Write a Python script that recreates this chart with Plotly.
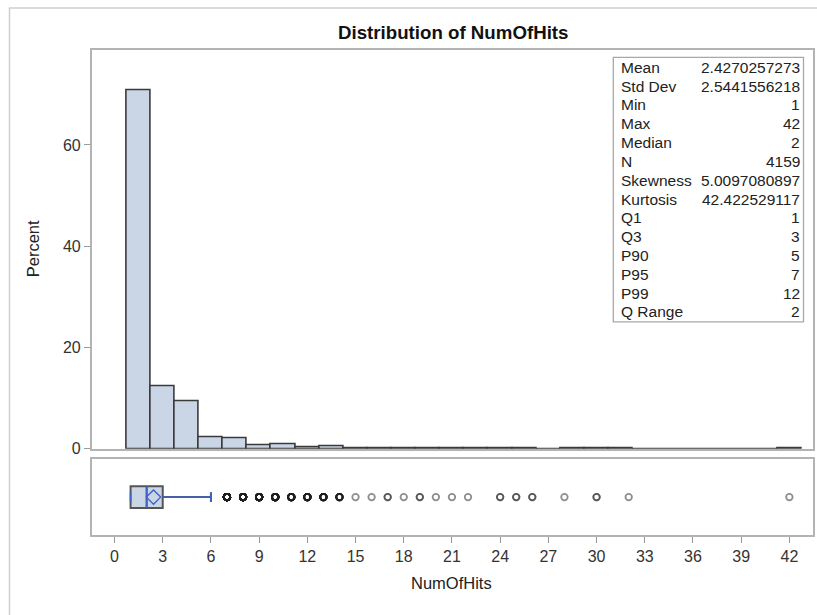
import plotly.graph_objects as go

# ---- data -------------------------------------------------------------
bin_centers = [1.5, 3, 4.5, 6, 7.5, 9, 10.5, 12, 13.5, 15, 16.5, 18, 19.5, 21,
               22.5, 24, 25.5, 27, 28.5, 30, 31.5, 33, 34.5, 36, 37.5, 39, 40.5, 42]
bin_width = 1.5
bin_percent = [70.85, 12.3, 9.4, 2.3, 2.16, 0.66, 0.99, 0.36, 0.48, 0.024, 0.072,
               0.024, 0.072, 0.024, 0.024, 0.048, 0.096, 0, 0.024, 0.048, 0.024,
               0, 0, 0, 0, 0, 0, 0.024]

q1, median, q3 = 1, 2, 3
lower_fence, upper_fence = 1, 6
mean_value = 2.4270257273

outlier_values = [7, 8, 9, 10, 11, 12, 13, 14, 15, 16, 17, 18, 19, 20, 21, 22,
                  24, 25, 26, 28, 30, 32, 42]
outlier_counts = [55, 35, 27, 25, 16, 15, 12, 8, 1, 1, 2, 1, 2, 1, 1, 1,
                  2, 2, 2, 1, 2, 1, 1]

stat_names = ["Mean", "Std Dev", "Min", "Max", "Median", "N", "Skewness",
              "Kurtosis", "Q1", "Q3", "P90", "P95", "P99", "Q Range"]
stat_values = ["2.4270257273", "2.5441556218", "1", "42", "2", "4159",
               "5.0097080897", "42.422529117", "1", "3", "5", "7", "12", "2"]

x_ticks = list(range(0, 43, 3))
y_ticks = [0, 20, 40, 60]

# ---- layout helpers ---------------------------------------------------
W, H = 817, 615
def px(x):
    return x / W
def py(y):
    return 1 - y / H

FONT = "Liberation Sans, Arial, sans-serif"
FILL = "#cad5e6"
EDGE = "#3a3a3a"
BLUE = "#3f63c6"
FRAME = "#b3b3b3"
TEXT = "#222222"

BOX_W = 0.57        # box thickness in y2 data units
CAP = 0.45          # whisker cap length relative to box thickness

fig = go.Figure()

# histogram
fig.add_trace(go.Bar(
    x=bin_centers, y=bin_percent, width=bin_width,
    marker=dict(color=FILL, line=dict(color=EDGE, width=1.6)),
    xaxis="x", yaxis="y", showlegend=False, hoverinfo="x+y"))

# box with grey outline
fig.add_trace(go.Box(
    y=[0], q1=[q1], median=[median], q3=[q3],
    lowerfence=[lower_fence], upperfence=[upper_fence],
    orientation="h", width=BOX_W, whiskerwidth=CAP,
    fillcolor=FILL, line=dict(color="#555555", width=2),
    boxpoints=False, xaxis="x2", yaxis="y2", showlegend=False))

# median, whisker and caps in blue on top of the box
h = BOX_W / 2
c = BOX_W * CAP / 2
fig.add_trace(go.Scatter(
    x=[q3, upper_fence, None, upper_fence, upper_fence, None,
       median, median, None, lower_fence, lower_fence],
    y=[0, 0, None, -c, c, None, -h, h, None, -c, c],
    mode="lines", line=dict(color=BLUE, width=1.6),
    xaxis="x2", yaxis="y2", showlegend=False, hoverinfo="skip"))

# mean marker
fig.add_trace(go.Scatter(
    x=[mean_value], y=[0], mode="markers",
    marker=dict(symbol="diamond-open", size=11, color=BLUE,
                line=dict(color=BLUE, width=1.4)),
    xaxis="x2", yaxis="y2", showlegend=False))

# outliers: one marker per observation, overlaps darken
ox, oy = [], []
for v, n in zip(outlier_values, outlier_counts):
    ox += [v] * n
    oy += [0] * n
fig.add_trace(go.Scatter(
    x=ox, y=oy, mode="markers",
    marker=dict(symbol="circle-open", size=6.5,
                color="rgba(30,30,30,0.5)",
                line=dict(color="rgba(30,30,30,0.5)", width=1.8)),
    xaxis="x2", yaxis="y2", showlegend=False))

x_dom = [px(91.7), px(813)]
x_rng = [-1.42, 43.47]

fig.update_layout(
    width=W, height=H,
    margin=dict(l=0, r=0, t=0, b=0),
    paper_bgcolor="white", plot_bgcolor="white",
    font=dict(family=FONT, size=16, color=TEXT),
    bargap=0,
    xaxis=dict(domain=x_dom, range=x_rng, showticklabels=False, ticks="",
               showgrid=False, zeroline=False, showline=True, mirror=True,
               linecolor=FRAME, linewidth=1.5, anchor="y"),
    yaxis=dict(domain=[py(455.5), py(51)], range=[0, 78.7], tickvals=y_ticks,
               ticks="outside", ticklen=6, tickcolor="#9a9a9a", tickwidth=1.3,
               showgrid=False, zeroline=False, showline=True, mirror=True,
               linecolor=FRAME, linewidth=1.5, anchor="x",
               tickfont=dict(size=16, color="#333333")),
    xaxis2=dict(domain=x_dom, range=x_rng, tickvals=x_ticks,
                ticks="outside", ticklen=6, tickcolor="#9a9a9a", tickwidth=1.3,
                showgrid=False, zeroline=False, showline=True, mirror=True,
                linecolor=FRAME, linewidth=1.5, anchor="y2",
                tickfont=dict(size=16, color="#333333")),
    yaxis2=dict(domain=[py(543), py(466)], range=[-1, 1], type="linear",
                showticklabels=False, ticks="", showgrid=False, zeroline=False,
                showline=True, mirror=True, linecolor=FRAME, linewidth=1.5,
                anchor="x2"),
)

annotations = [
    dict(text="<b>Distribution of NumOfHits</b>", x=px(452.5), y=py(33),
         xanchor="center", yanchor="middle", font=dict(size=18.7, color="#111111")),
    dict(text="Percent", x=px(33), y=py(253), textangle=-90,
         xanchor="center", yanchor="middle", font=dict(size=16.5, color="#222222")),
    dict(text="NumOfHits", x=px(451.7), y=py(591.7),
         xanchor="center", yanchor="middle", font=dict(size=16.5, color="#222222")),
]
row_top, row_step = 68.3, 19.1
for i, (name, val) in enumerate(zip(stat_names, stat_values)):
    yy = py(row_top + i * row_step)
    annotations.append(dict(text=name, x=px(619.3), y=yy, xanchor="left",
                            yanchor="middle", font=dict(size=15.5, color=TEXT)))
    annotations.append(dict(text=val, x=px(802), y=yy, xanchor="right",
                            yanchor="middle", font=dict(size=15.5, color=TEXT)))
for a in annotations:
    a.update(xref="paper", yref="paper", showarrow=False)
fig.update_layout(annotations=annotations)

fig.update_layout(shapes=[
    # statistics inset frame
    dict(type="rect", xref="paper", yref="paper",
         x0=px(613.3), x1=px(803.5), y0=py(326.7), y1=py(58.3),
         line=dict(color="#a8a8a8", width=1.3), fillcolor="rgba(255,255,255,0)"),
    # outer graph frame
    dict(type="rect", xref="paper", yref="paper",
         x0=px(9.5), x1=1.05, y0=-0.05, y1=py(8),
         line=dict(color="#d0d0d0", width=1.5)),
])

fig.write_html("out.html")
